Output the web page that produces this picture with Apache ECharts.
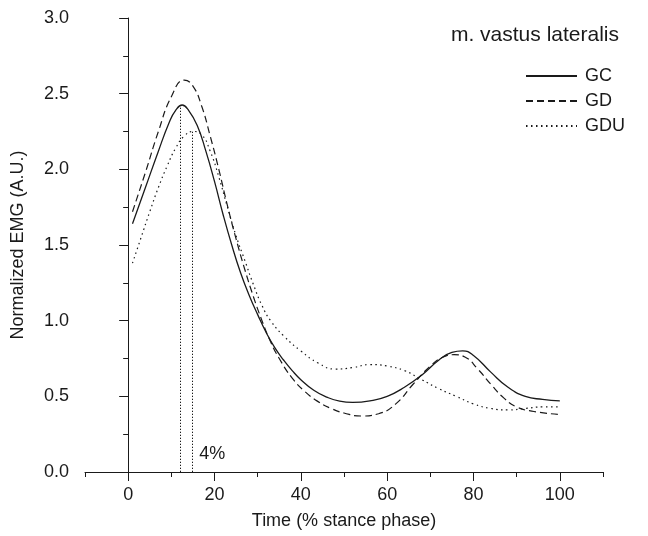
<!DOCTYPE html>
<html>
<head>
<meta charset="utf-8">
<script src="https://cdn.jsdelivr.net/npm/echarts@6/dist/echarts.min.js"></script>
<style>
  html, body { margin: 0; padding: 0; background: #fff; }
  #chart { width: 648px; height: 536px; }
</style>
</head>
<body>
<div id="chart"></div>
<script>
// time (% stance phase) / normalized EMG
var gcX  = [1, 4, 7, 9.5, 11, 12.5, 14, 16, 18, 20, 22, 24, 26, 28, 30, 32, 34, 36, 38, 40, 43, 46, 49, 52, 56, 60, 64, 68, 72, 75, 77.5, 80, 84, 88, 92, 96, 100];
var gcY  = [1.64, 1.88, 2.12, 2.31, 2.39, 2.425, 2.39, 2.29, 2.12, 1.92, 1.70, 1.50, 1.32, 1.17, 1.04, 0.92, 0.82, 0.74, 0.67, 0.61, 0.54, 0.495, 0.468, 0.46, 0.47, 0.50, 0.56, 0.64, 0.74, 0.79, 0.80, 0.77, 0.66, 0.56, 0.50, 0.48, 0.47];

var gdX  = [1, 4, 7, 10, 13, 15, 17, 19, 21, 23, 25, 27, 29, 31, 33, 35, 38, 41, 44, 47, 50, 54, 58, 62, 66, 70, 73, 75.5, 78, 81, 84, 87, 90, 94, 100];
var gdY  = [1.72, 1.98, 2.25, 2.48, 2.59, 2.55, 2.42, 2.22, 2.00, 1.76, 1.54, 1.34, 1.16, 1.00, 0.86, 0.75, 0.62, 0.53, 0.465, 0.42, 0.39, 0.37, 0.385, 0.45, 0.58, 0.70, 0.76, 0.775, 0.76, 0.68, 0.58, 0.49, 0.43, 0.40, 0.38];

var gduX = [1, 3, 5, 7, 9, 11, 13, 15, 17, 19, 21, 23, 25, 27, 29, 31, 33, 36, 40, 44, 48, 52, 56, 60, 64, 68, 72, 76, 80, 84, 88, 92, 96, 100];
var gduY = [1.38, 1.55, 1.72, 1.88, 2.02, 2.14, 2.22, 2.25, 2.23, 2.12, 1.95, 1.75, 1.56, 1.40, 1.24, 1.10, 1.00, 0.90, 0.80, 0.72, 0.68, 0.69, 0.71, 0.70, 0.67, 0.61, 0.55, 0.50, 0.45, 0.42, 0.41, 0.42, 0.43, 0.43];

// peak markers (GC and GDU) and the delay note
var peakX = [12, 14.8];
var peakY = [2.42, 2.25];
var noteText = '4%';
var noteAt = [19.5, 0.12];

var xTicks = [0, 20, 40, 60, 80, 100];

function pairs(xs, ys) {
  return xs.map(function (x, i) { return [x, ys[i]]; });
}

var ink = '#1a1a1a';
var font = '"Liberation Sans", Arial, sans-serif';

var chart = echarts.init(document.getElementById('chart'));
chart.setOption({
  animation: false,
  title: {
    text: 'm. vastus lateralis',
    right: 24,
    top: 20,
    textStyle: { fontFamily: font, fontSize: 21, fontWeight: 'normal', color: ink }
  },
  legend: {
    orient: 'vertical',
    right: 18,
    top: 62,
    itemWidth: 51,
    itemHeight: 14,
    itemGap: 7,
    itemStyle: { opacity: 0 },
    textStyle: { fontFamily: font, fontSize: 18, color: ink, padding: [0, 0, 0, 3] },
    data: ['GC', 'GD', 'GDU']
  },
  grid: { left: 85, right: 45, top: 18, bottom: 64 },
  xAxis: [
    {
      type: 'value',
      min: -10,
      max: 110,
      interval: 10,
      name: 'Time (% stance phase)',
      nameLocation: 'middle',
      nameGap: 40,
      nameTextStyle: { fontFamily: font, fontSize: 18, color: ink },
      axisLine: { lineStyle: { color: ink, width: 1 } },
      axisTick: { length: 5, lineStyle: { color: ink } },
      axisLabel: {
        fontFamily: font, fontSize: 18, color: ink, margin: 14,
        formatter: function (v) { return xTicks.indexOf(v) >= 0 ? String(v) : ''; }
      },
      splitLine: { show: false }
    },
    {
      // overlay axis: only the longer major ticks
      type: 'value',
      position: 'bottom',
      offset: 0,
      min: -10,
      max: 110,
      axisLine: { show: false },
      axisTick: { show: true, length: 9, customValues: xTicks, lineStyle: { color: ink } },
      axisLabel: { show: false },
      splitLine: { show: false }
    }
  ],
  yAxis: {
    type: 'value',
    min: 0,
    max: 3,
    interval: 0.5,
    name: 'Normalized EMG (A.U.)',
    nameLocation: 'middle',
    nameGap: 58,
    nameTextStyle: { fontFamily: font, fontSize: 18, color: ink },
    axisLine: { show: true, lineStyle: { color: ink, width: 1 } },
    axisTick: { show: true, length: 9, lineStyle: { color: ink } },
    minorTick: { show: true, splitNumber: 2, length: 5, lineStyle: { color: ink } },
    axisLabel: {
      fontFamily: font, fontSize: 18, color: ink, margin: 16,
      formatter: function (v) { return v.toFixed(1); }
    },
    splitLine: { show: false }
  },
  series: [
    {
      name: 'GC',
      type: 'line',
      smooth: 0.5,
      symbol: 'none',
      lineStyle: { color: ink, width: 1.3, type: 'solid' },
      itemStyle: { color: ink },
      data: pairs(gcX, gcY),
      markLine: {
        silent: true,
        symbol: 'none',
        label: { show: false },
        lineStyle: { color: ink, width: 1, type: [1.3, 1.7] },
        data: peakX.map(function (x, i) {
          return [{ coord: [x, 0] }, { coord: [x, peakY[i]] }];
        })
      }
    },
    {
      name: 'GD',
      type: 'line',
      smooth: 0.5,
      symbol: 'none',
      lineStyle: { color: ink, width: 1.2, type: [7, 4] },
      itemStyle: { color: ink },
      data: pairs(gdX, gdY)
    },
    {
      name: 'GDU',
      type: 'line',
      smooth: 0.5,
      symbol: 'none',
      lineStyle: { color: ink, width: 1.2, type: [1.5, 3.5] },
      itemStyle: { color: ink },
      data: pairs(gduX, gduY),
      markPoint: {
        silent: true,
        symbol: 'circle',
        symbolSize: 0,
        label: {
          show: true,
          formatter: noteText,
          fontFamily: font, fontSize: 18, color: ink
        },
        data: [{ coord: noteAt }]
      }
    }
  ]
});
</script>
</body>
</html>
